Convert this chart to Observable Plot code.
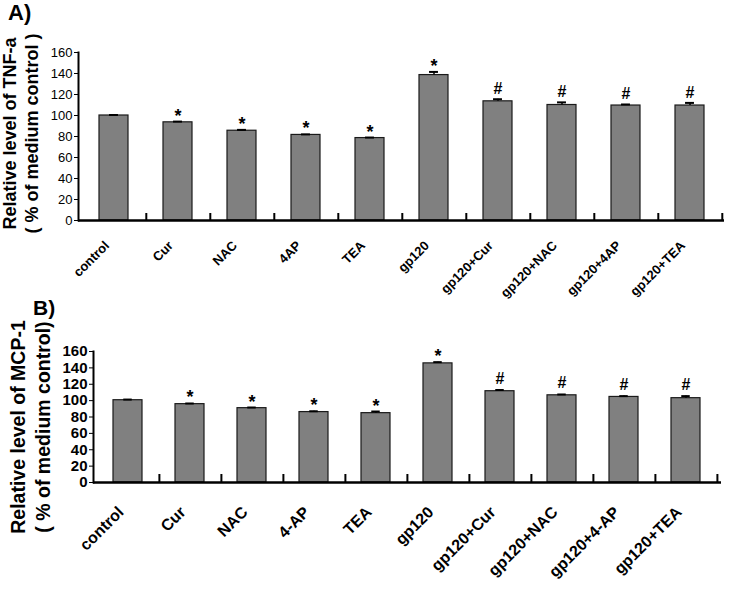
<!DOCTYPE html>
<html>
<head>
<meta charset="utf-8">
<script src="https://cdn.jsdelivr.net/npm/d3@7"></script>
<script src="https://cdn.jsdelivr.net/npm/@observablehq/plot@0.6"></script>
<style>
  body { margin: 0; background: #fff; }
  #root { position: relative; width: 730px; height: 597px; font-family: "Liberation Sans", Arial, sans-serif; overflow: hidden; }
  .panel { position: absolute; left: 0; }
  .tag { position: absolute; font-weight: bold; font-size: 22px; line-height: 1; }
</style>
</head>
<body>
<div id="root">
  <div id="plotA" class="panel" style="top:0"></div>
  <div id="plotB" class="panel" style="top:290px"></div>
  <div class="tag" style="left:8px;top:2px">A)</div>
  <div class="tag" style="left:33px;top:297px;font-size:21px">B)</div>
</div>
<script>
// ---- data ----
const categoriesA = ["control", "Cur", "NAC", "4AP", "TEA", "gp120", "gp120+Cur", "gp120+NAC", "gp120+4AP", "gp120+TEA"];
const valuesA = [100, 93.5, 85.5, 81.5, 78.5, 138.5, 113.5, 110, 109.5, 109.5];
const errorsA = [0.5, 0.7, 0.8, 0.5, 0.5, 3, 2, 2.5, 1, 2.5];
const signifA = ["", "*", "*", "*", "*", "*", "#", "#", "#", "#"];

const categoriesB = ["control", "Cur", "NAC", "4-AP", "TEA", "gp120", "gp120+Cur", "gp120+NAC", "gp120+4-AP", "gp120+TEA"];
const valuesB = [100.5, 95.7, 90.8, 86, 84.7, 145.5, 111.5, 106.5, 104.5, 103];
const errorsB = [0.8, 0.8, 0.8, 1, 2, 1.5, 1.5, 1, 1, 2.5];
const signifB = ["", "*", "*", "*", "*", "*", "#", "#", "#", "#"];

const yTicks = [0, 20, 40, 60, 80, 100, 120, 140, 160];
const yLabelA = "Relative level of TNF-a\n( % of medium control )";
const yLabelB = "Relative level of MCP-1\n( % of medium control)";

function build(cfg) {
  const data = cfg.cats.map((c, i) => ({cat: c, val: cfg.vals[i], err: cfg.errs[i], sig: cfg.sigs[i]}));
  const plotW = cfg.width - cfg.ml - cfg.mr;
  const plotH = cfg.height - cfg.mt - cfg.mb;
  const step = plotW / cfg.cats.length;
  const bandW = step * (1 - cfg.pad);
  const capInset = (bandW - 9) / 2;
  const tickUnits = 160 * cfg.tickLen / plotH;
  return Plot.plot({
    width: cfg.width,
    height: cfg.height,
    marginLeft: cfg.ml, marginRight: cfg.mr, marginTop: cfg.mt, marginBottom: cfg.mb,
    style: {fontFamily: "'Liberation Sans', Arial, sans-serif", color: "black", background: "transparent"},
    x: {domain: cfg.cats, paddingInner: cfg.pad, paddingOuter: cfg.pad / 2, label: null, axis: null},
    y: {domain: [0, 160], label: null},
    marks: [
      Plot.barY(data, {x: "cat", y: "val", fill: "#808080", stroke: "#1a1a1a", strokeWidth: 1.2}),
      Plot.ruleX(data, {x: "cat", y1: "val", y2: d => d.val + d.err, stroke: "black", strokeWidth: 1.5}),
      Plot.tickY(data, {x: "cat", y: d => d.val + d.err, insetLeft: capInset, insetRight: capInset, stroke: "black", strokeWidth: 2}),
      Plot.text(data.filter(d => d.sig === "*"), {x: "cat", y: d => d.val + d.err, text: "sig", lineAnchor: "bottom", fontSize: 18, fontWeight: "bold", dy: cfg.starDy}),
      Plot.text(data.filter(d => d.sig === "#"), {x: "cat", y: d => d.val + d.err, text: "sig", lineAnchor: "bottom", fontSize: 16, fontWeight: "bold", dy: cfg.hashDy}),
      Plot.ruleX(cfg.cats, {x: d => d, dx: step / 2, y1: 0, y2: tickUnits, stroke: "black", strokeWidth: 2}),
      Plot.ruleY([0], {stroke: "black", strokeWidth: 2.5}),
      Plot.frame({anchor: "left", stroke: "black", strokeWidth: 2}),
      Plot.axisY({ticks: yTicks, tickFormat: d => String(d), tickSize: 4, tickPadding: 2, fontSize: cfg.yFont, fontWeight: cfg.yWeight, label: null}),
      Plot.text(cfg.cats, {x: d => d, frameAnchor: "bottom", text: d => d, rotate: () => -45, textAnchor: "end", lineAnchor: "middle", fontSize: cfg.xFont, fontWeight: "bold", dx: cfg.xDx, dy: cfg.xPad}),
      Plot.text([cfg.ylabel], {frameAnchor: "left", rotate: -90, textAnchor: "middle", lineAnchor: "middle", lineHeight: cfg.lh, fontSize: cfg.labFont, fontWeight: "bold", dx: cfg.labDx, dy: cfg.labDy})
    ]
  });
}

document.getElementById("plotA").append(build({
  cats: categoriesA, vals: valuesA, errs: errorsA, sigs: signifA, ylabel: yLabelA,
  width: 730, height: 320, ml: 78, mr: 6, mt: 52, mb: 100, pad: 0.55, tickLen: 7,
  starDy: 0, hashDy: -5, yFont: 13, yWeight: "normal", xFont: 13, xPad: 23, xDx: -7,
  labFont: 18, lh: 1.22, labDx: -59, labDy: -3
}));

document.getElementById("plotB").append(build({
  cats: categoriesB, vals: valuesB, errs: errorsB, sigs: signifB, ylabel: yLabelB,
  width: 730, height: 307, ml: 93, mr: 9, mt: 61, mb: 115, pad: 0.53, tickLen: 8,
  starDy: 0, hashDy: -6, yFont: 15, yWeight: "bold", xFont: 16, xPad: 27, xDx: -7,
  labFont: 19.5, lh: 1.28, labDx: -64, labDy: 10
}));
</script>
</body>
</html>
